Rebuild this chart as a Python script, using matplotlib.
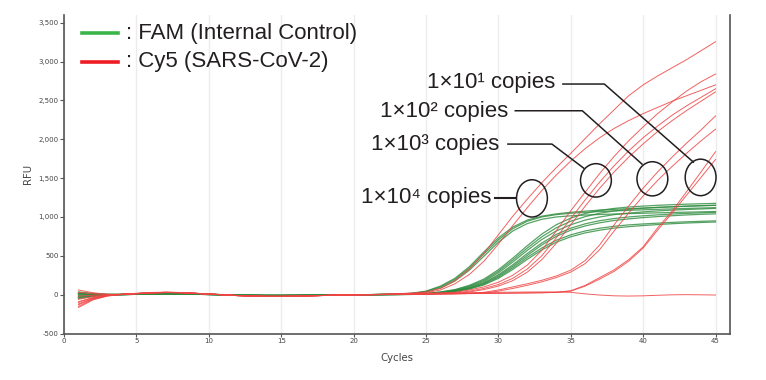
import matplotlib
matplotlib.use("Agg")
from matplotlib import pyplot as plt
from matplotlib.patches import Ellipse
from matplotlib.lines import Line2D
from matplotlib.ticker import FuncFormatter, MultipleLocator

# Cycle numbers
cycles = list(range(1, 46))

# Cy5 (SARS-CoV-2) curves, RFU per cycle
cy5_1e4_a = [-150, -60, -15, 5, 18, 28, 32, 28, 18, 8, -3, -13, -20, -24, -24, -21, -16, -10, -5, -1,
             2, 6, 12, 20, 35, 80, 180, 330, 530, 770, 1010, 1230, 1440, 1635, 1818, 2010, 2200, 2380, 2560, 2700,
             2815, 2920, 3025, 3140, 3255]
cy5_1e4_b = [-120, -50, -12, 4, 15, 25, 30, 27, 18, 8, -2, -12, -18, -22, -22, -20, -15, -10, -5, -2,
             1, 4, 9, 15, 25, 60, 140, 260, 430, 650, 890, 1120, 1340, 1540, 1720, 1880, 2020, 2140, 2240, 2330,
             2410, 2490, 2560, 2630, 2700]
cy5_1e3_a = [60, 25, 5, 3, 12, 22, 26, 24, 16, 7, -2, -11, -17, -20, -20, -18, -14, -9, -5, -2,
             0, 3, 6, 10, 15, 22, 30, 60, 100, 160, 250, 380, 570, 820, 1080, 1320, 1560, 1780, 1980, 2160,
             2330, 2480, 2620, 2740, 2840]
cy5_1e3_b = [-90, -38, -8, 4, 14, 24, 29, 26, 17, 7, -3, -13, -19, -23, -23, -21, -16, -11, -6, -2,
             0, 2, 5, 8, 12, 16, 20, 45, 80, 130, 210, 330, 500, 730, 980, 1220, 1450, 1660, 1850, 2020,
             2170, 2310, 2430, 2540, 2650]
cy5_1e3_c = [-165, -68, -18, 2, 12, 22, 27, 25, 17, 8, -1, -10, -16, -20, -21, -19, -15, -10, -6, -3,
             -1, 1, 3, 6, 9, 12, 15, 35, 65, 110, 180, 290, 450, 660, 900, 1140, 1370, 1580, 1770, 1940,
             2100, 2240, 2370, 2490, 2610]
cy5_1e2_a = [-60, -25, -5, 4, 14, 24, 30, 28, 19, 9, -1, -11, -18, -22, -23, -21, -16, -11, -6, -2,
             0, 2, 4, 6, 8, 10, 12, 18, 30, 60, 100, 140, 185, 240, 315, 440, 640, 900, 1140, 1370,
             1580, 1770, 1950, 2120, 2300]
cy5_1e2_b = [30, 12, 2, 3, 13, 23, 28, 26, 18, 8, -2, -12, -19, -23, -22, -20, -15, -10, -5, -2,
             0, 1, 3, 5, 7, 9, 11, 15, 20, 45, 80, 120, 165, 220, 290, 400, 580, 820, 1050, 1270,
             1470, 1650, 1820, 1980, 2130]
cy5_1e1_a = [-130, -52, -14, 3, 13, 23, 28, 26, 17, 7, -3, -13, -19, -22, -22, -20, -15, -10, -5, -2,
             0, 2, 4, 6, 8, 10, 12, 14, 16, 18, 20, 22, 25, 30, 50, 120, 220, 320, 450, 615,
             860, 1075, 1325, 1580, 1840]
cy5_1e1_b = [-100, -40, -10, 4, 14, 24, 29, 27, 18, 8, -2, -12, -18, -22, -22, -20, -15, -10, -5, -2,
             0, 2, 4, 6, 8, 10, 12, 14, 16, 18, 20, 22, 25, 28, 45, 110, 200, 300, 430, 600,
             830, 1050, 1280, 1510, 1740]
cy5_flat = [-20, -8, -2, 4, 14, 24, 29, 27, 18, 8, -2, -12, -18, -22, -22, -20, -15, -10, -5, -2,
            0, 3, 6, 10, 14, 18, 22, 25, 28, 30, 32, 34, 35, 35, 30, 10, -5, -15, -18, -15,
            -8, -2, 0, -2, -5]

# FAM (Internal Control) curves, RFU per cycle
fam_a = [35, 15, 5, 2, 5, 8, 10, 9, 6, 3, 0, -4, -8, -10, -10, -9, -7, -5, -3, -1,
         0, 3, 8, 18, 45, 110, 210, 360, 550, 730, 870, 960, 1010, 1040, 1060, 1075, 1088, 1098, 1107, 1115,
         1123, 1130, 1137, 1144, 1150]
fam_b = [20, 9, 3, 2, 5, 8, 10, 9, 6, 3, 0, -4, -8, -10, -10, -9, -7, -5, -3, -1,
         0, 3, 7, 16, 40, 100, 195, 340, 525, 705, 850, 945, 1000, 1030, 1048, 1060, 1070, 1078, 1085, 1092,
         1098, 1104, 1110, 1115, 1120]
fam_c = [10, 4, 1, 2, 4, 7, 9, 8, 5, 2, -1, -5, -8, -10, -10, -9, -7, -5, -3, -1,
         0, 2, 6, 14, 35, 85, 175, 315, 495, 675, 820, 915, 970, 1000, 1015, 1025, 1032, 1038, 1043, 1048,
         1053, 1058, 1062, 1066, 1070]
fam_d = [-10, -4, -1, 2, 5, 8, 10, 9, 6, 3, 0, -4, -8, -10, -10, -9, -7, -5, -3, -1,
         0, 1, 3, 6, 15, 35, 65, 120, 200, 320, 470, 630, 780, 900, 985, 1045, 1085, 1110, 1128, 1140,
         1150, 1158, 1165, 1170, 1175]
fam_e = [-25, -11, -3, 2, 5, 8, 10, 9, 6, 3, 0, -4, -8, -10, -10, -9, -7, -5, -3, -1,
         0, 1, 3, 6, 14, 32, 60, 110, 185, 300, 445, 600, 745, 860, 945, 1005, 1048, 1078, 1098, 1112,
         1123, 1132, 1140, 1146, 1150]
fam_f = [-40, -18, -5, 1, 4, 7, 9, 8, 5, 2, -1, -5, -9, -11, -11, -10, -8, -6, -3, -1,
         0, 1, 2, 5, 12, 28, 55, 100, 170, 280, 420, 570, 710, 820, 900, 960, 1000, 1030, 1050, 1065,
         1078, 1088, 1096, 1103, 1110]
fam_g = [-50, -22, -6, 1, 4, 7, 9, 8, 5, 2, -1, -5, -9, -11, -11, -10, -8, -6, -3, -1,
         0, 1, 2, 4, 10, 25, 50, 90, 155, 255, 385, 530, 665, 775, 855, 912, 952, 980, 1000, 1015,
         1027, 1038, 1046, 1053, 1060]
fam_h = [0, 0, 0, 2, 5, 8, 10, 9, 6, 3, 0, -4, -8, -10, -10, -9, -7, -5, -3, -1,
         0, 1, 2, 4, 10, 22, 45, 85, 145, 240, 365, 505, 640, 750, 830, 885, 925, 955, 975, 992,
         1005, 1016, 1026, 1034, 1040]
fam_i = [15, 6, 2, 2, 5, 8, 10, 9, 6, 3, 0, -4, -8, -10, -10, -9, -7, -5, -3, -1,
         0, 1, 2, 3, 8, 20, 40, 78, 135, 225, 345, 480, 600, 700, 770, 820, 855, 880, 898, 910,
         920, 930, 938, 944, 950]
fam_j = [-30, -13, -4, 1, 4, 7, 9, 8, 5, 2, -1, -5, -9, -11, -11, -10, -8, -6, -3, -1,
         0, 1, 2, 3, 8, 18, 38, 72, 125, 210, 325, 455, 575, 675, 745, 795, 830, 857, 875, 890,
         902, 913, 922, 929, 935]

red_curves = [cy5_1e4_a, cy5_1e4_b, cy5_1e3_a, cy5_1e3_b, cy5_1e3_c,
              cy5_1e2_a, cy5_1e2_b, cy5_1e1_a, cy5_1e1_b, cy5_flat]
green_curves = [fam_a, fam_b, fam_c, fam_d, fam_e, fam_f, fam_g, fam_h, fam_i, fam_j]

legend_labels = [": FAM (Internal Control)", ": Cy5 (SARS-CoV-2)"]

# Annotation text, text anchor, leader line and circle (cycle, RFU)
copy_labels = ["1\u00d710\u00b9 copies", "1\u00d710\u00b2 copies", "1\u00d710\u00b3 copies", "1\u00d710\u2074 copies"]
label_anchor = [(33.93, 2655), (30.68, 2290), (30.06, 1861), (29.49, 1174)]
leader_x = [[34.46, 37.32, 43.47], [31.17, 35.80, 39.92], [30.66, 33.70, 35.89], [29.74, 31.22]]
leader_y = [[2711, 2711, 1706], [2367, 2367, 1681], [1938, 1938, 1629], [1243, 1243]]
circle_xy = [(43.97, 1509), (40.64, 1491), (36.74, 1471), (32.32, 1239)]
circle_h = [470, 440, 430, 480]

big_font = ["Liberation Sans", "DejaVu Sans"]

fig = plt.figure(figsize=(7.66, 3.80), dpi=100)
ax = fig.add_axes([64 / 766, 46.5 / 380, 666 / 766, 319 / 380])

for c in green_curves:
    ax.plot(cycles, c, color="#2e8b3e", lw=0.9, alpha=0.8, zorder=3)
for c in red_curves:
    ax.plot(cycles, c, color="#f04545", lw=0.7, alpha=0.85, zorder=4)

for i in range(4):
    ax.text(label_anchor[i][0], label_anchor[i][1], copy_labels[i], ha="right", va="baseline",
            fontsize=16, color="#231f20", family=big_font, zorder=6)
    ax.plot(leader_x[i], leader_y[i], color="#231f20", lw=1.5 if i == 3 else 1.1, zorder=6)
    ax.add_patch(Ellipse(circle_xy[i], 2.13, circle_h[i], fill=False, ec="#231f20", lw=1.1, zorder=6))

ax.set_xlim(0, 46)
ax.set_ylim(-500, 3606)
ax.xaxis.set_major_locator(MultipleLocator(5))
ax.yaxis.set_major_locator(MultipleLocator(500))
ax.yaxis.set_major_formatter(FuncFormatter(lambda v, p: f"{v:,.0f}"))
ax.grid(axis="x", color="#ececec", lw=1)
ax.set_axisbelow(True)
ax.spines["top"].set_visible(False)
for s in ["left", "right", "bottom"]:
    ax.spines[s].set_color("#555555")
    ax.spines[s].set_linewidth(1.2)
ax.tick_params(axis="y", length=3, width=0.8, color="#555555", labelsize=5, labelcolor="#444444", pad=1)
ax.tick_params(axis="x", length=2, width=0.8, color="#555555", labelsize=5, labelcolor="#444444", pad=1)

fig.text(397 / 766, 1 - 358 / 380, "Cycles", ha="center", va="center", fontsize=7.3, color="#444444")
fig.text(28 / 766, 1 - 174 / 380, "RFU", ha="center", va="center", rotation=90, fontsize=7.3, color="#444444")

# manual legend
leg_colors = ["#3bb54a", "#ed1c24"]
leg_y = [1 - 33.3 / 380, 1 - 61.7 / 380]
for i in range(2):
    fig.add_artist(Line2D([82 / 766, 118 / 766], [leg_y[i], leg_y[i]], color=leg_colors[i], lw=2.6))
    fig.text(126 / 766, leg_y[i], legend_labels[i], ha="left", va="center", fontsize=16,
             color="#231f20", family=big_font)

fig.savefig("out.png", dpi=100)
